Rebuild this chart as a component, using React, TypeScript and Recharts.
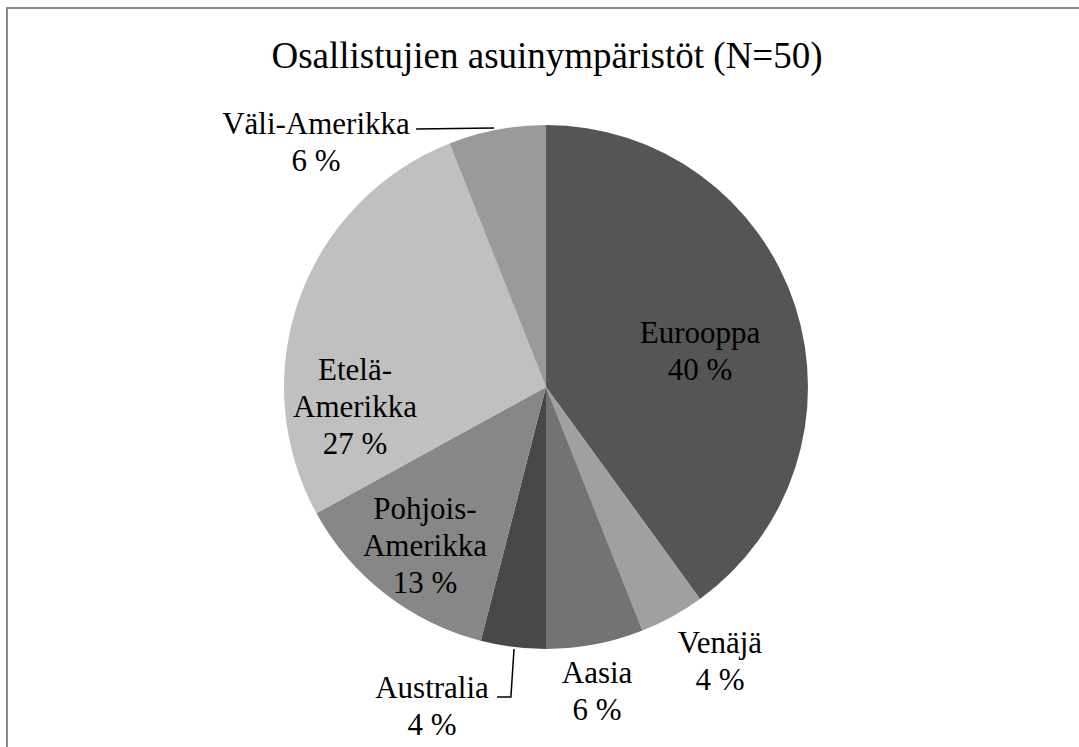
import { PieChart, Pie, Cell } from "recharts";

const regions = [
  "Eurooppa",
  "Venäjä",
  "Aasia",
  "Australia",
  "Pohjois-Amerikka",
  "Etelä-Amerikka",
  "Väli-Amerikka",
];
const shares = [40, 4, 6, 4, 13, 27, 6];
const labelLines: string[][] = [
  ["Eurooppa"],
  ["Venäjä"],
  ["Aasia"],
  ["Australia"],
  ["Pohjois-", "Amerikka"],
  ["Etelä-", "Amerikka"],
  ["Väli-Amerikka"],
];

const sliceColors = ["#555555", "#a0a0a0", "#737373", "#474747", "#878787", "#c0c0c0", "#9a9a9a"];

// label centre relative to the pie centre, in units of the outer radius
const labelSpot = [
  { dx: 0.588, dy: -0.134 },
  { dx: 0.664, dy: 1.046 },
  { dx: 0.195, dy: 1.164 },
  { dx: -0.435, dy: 1.218 },
  { dx: -0.462, dy: 0.607 },
  { dx: -0.729, dy: 0.076 },
  { dx: -0.878, dy: -0.935 },
];
// leader lines, same units
const leaders: Record<number, [number, number][]> = {
  3: [
    [-0.187, 1.183],
    [-0.134, 1.183],
    [-0.122, 1.0],
  ],
  6: [
    [-0.496, -0.985],
    [-0.198, -0.989],
  ],
};

const data = regions.map((name, i) => ({ name, value: shares[i] }));

const FONT = '"Liberation Serif", "Times New Roman", Times, serif';
const LINE_H = 37;

const renderLabel = (props: any) => {
  const { cx, cy, outerRadius, index } = props;
  const spot = labelSpot[index];
  const x = cx + spot.dx * outerRadius;
  const y = cy + spot.dy * outerRadius;
  const lines = [...labelLines[index], `${shares[index]} %`];
  const top = y - ((lines.length - 1) * LINE_H) / 2;
  const pts = leaders[index];
  return (
    <g key={`lbl-${index}`}>
      {pts && (
        <polyline
          points={pts.map(([a, b]) => `${cx + a * outerRadius},${cy + b * outerRadius}`).join(" ")}
          fill="none"
          stroke="#000"
          strokeWidth={1.5}
        />
      )}
      {lines.map((t, j) => (
        <text
          key={j}
          x={x}
          y={top + j * LINE_H + 10}
          textAnchor="middle"
          fill="#000"
          style={{ fontFamily: FONT, fontSize: 31 }}
        >
          {t}
        </text>
      ))}
    </g>
  );
};

export default function App() {
  return (
    <div style={{ position: "absolute", left: 0, top: 0, width: 1079, height: 747, overflow: "hidden", background: "#fff" }}>
      <div
        style={{
          position: "absolute",
          left: 6,
          top: 7,
          width: 1100,
          height: 800,
          border: "2px solid #8a8a8a",
        }}
      />
      <div
        style={{
          position: "absolute",
          left: 0,
          top: 34,
          width: 1094,
          textAlign: "center",
          fontFamily: FONT,
          fontSize: 37,
          lineHeight: "44px",
          color: "#000",
        }}
      >
        Osallistujien asuinympäristöt (N=50)
      </div>
      <div style={{ position: "absolute", left: 0, top: 0 }}>
        <PieChart width={1079} height={747} margin={{ top: 0, right: 0, bottom: 0, left: 0 }}>
          <Pie
            data={data}
            dataKey="value"
            nameKey="name"
            cx={546}
            cy={387}
            outerRadius={262}
            startAngle={90}
            endAngle={-270}
            stroke="none"
            label={renderLabel}
            labelLine={false}
            isAnimationActive={false}
          >
            {data.map((d, i) => (
              <Cell key={d.name} fill={sliceColors[i]} />
            ))}
          </Pie>
        </PieChart>
      </div>
    </div>
  );
}
